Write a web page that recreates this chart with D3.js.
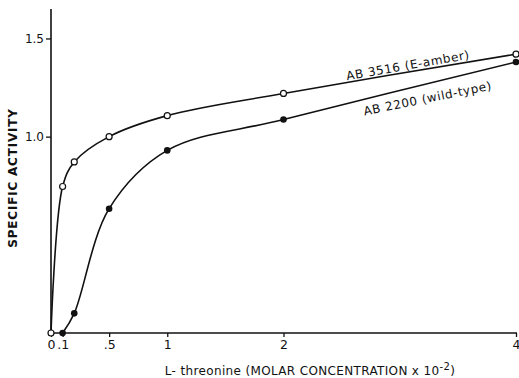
<!DOCTYPE html>
<html>
<head>
<meta charset="utf-8">
<script src="https://cdn.jsdelivr.net/npm/d3@7"></script>
<style>
  html, body { margin: 0; padding: 0; background: #fff; }
  svg { display: block; }
  text { font-family: "DejaVu Sans", sans-serif; fill: #111; }
</style>
</head>
<body>
<svg id="chart" width="519" height="378"></svg>
<script>
// L-threonine concentration (molar x 10^-2)
const concAmber = [0, 0.1, 0.2, 0.5, 1, 2, 4];
const activityAmber = [0, 0.746, 0.871, 1.0, 1.107, 1.22, 1.42];

const concWild = [0.1, 0.2, 0.5, 1, 2, 4];
const activityWild = [0, 0.10, 0.633, 0.93, 1.087, 1.38];

const xTicks = [0, 0.1, 0.5, 1, 2, 4];
const xTickLabels = ["0", ".1", ".5", "1", "2", "4"];
const yTicks = [1.0, 1.5];
const yTickLabels = ["1.0", "1.5"];

const seriesNames = ["AB 3516  (E-amber)", "AB 2200  (wild-type)"];

const svg = d3.select("#chart");
const x = d3.scaleLinear().domain([0, 4]).range([51, 516]);
const y = d3.scaleLinear().domain([0, 1.65]).range([333, 9]);

const ink = "#111";

// axes
const xAxis = d3.axisBottom(x).tickValues(xTicks)
  .tickFormat((d, i) => xTickLabels[i]).tickSize(4).tickSizeOuter(0).tickPadding(3);
const gx = svg.append("g").attr("transform", `translate(0,${y(0)})`).call(xAxis);
gx.select(".domain").attr("stroke", ink).attr("stroke-width", 1.6)
  .attr("d", `M${x(0)},0H${x(4) + 1}`);
gx.selectAll(".tick line").attr("stroke", ink).attr("stroke-width", 1.3);
gx.selectAll(".tick text").attr("font-size", 12.5).attr("font-family", "DejaVu Sans").attr("fill", ink);

const yAxis = d3.axisLeft(y).tickValues(yTicks)
  .tickFormat((d, i) => yTickLabels[i]).tickSize(5).tickSizeOuter(0).tickPadding(2);
const gy = svg.append("g").attr("transform", `translate(${x(0)},0)`).call(yAxis);
gy.select(".domain").attr("stroke", ink).attr("stroke-width", 1.6)
  .attr("d", `M0,${y(0)}V${y(1.65)}`);
gy.selectAll(".tick line").attr("stroke", ink).attr("stroke-width", 1.3);
gy.selectAll(".tick text").attr("font-size", 12).attr("font-family", "DejaVu Sans").attr("fill", ink);

// curves
const line = d3.line().x(d => x(d[0])).y(d => y(d[1])).curve(d3.curveCatmullRom.alpha(0.5));
const amber = concAmber.map((c, i) => [c, activityAmber[i]]);
const wild = concWild.map((c, i) => [c, activityWild[i]]);

svg.append("path").datum(amber).attr("d", line)
  .attr("fill", "none").attr("stroke", ink).attr("stroke-width", 1.6);
svg.append("path").datum(wild).attr("d", line)
  .attr("fill", "none").attr("stroke", ink).attr("stroke-width", 1.6);

// points
svg.append("g").selectAll("circle").data(amber).join("circle")
  .attr("cx", d => x(d[0])).attr("cy", d => y(d[1])).attr("r", 3)
  .attr("fill", "#fff").attr("stroke", ink).attr("stroke-width", 1.2);
svg.append("g").selectAll("circle").data(wild).join("circle")
  .attr("cx", d => x(d[0])).attr("cy", d => y(d[1])).attr("r", 3.3)
  .attr("fill", ink);

// series labels along their curves
const labels = [
  { text: seriesNames[0], at: [3.07, 1.362], angle: -10 },
  { text: seriesNames[1], at: [3.24, 1.194], angle: -11.5 }
];
svg.append("g").selectAll("text").data(labels).join("text")
  .attr("transform", d => `translate(${x(d.at[0])},${y(d.at[1])}) rotate(${d.angle})`)
  .attr("text-anchor", "middle").attr("dominant-baseline", "central")
  .attr("font-size", 12).attr("letter-spacing", 0.6).text(d => d.text);

// axis titles
const xt = svg.append("text").attr("x", 310).attr("y", 375)
  .attr("text-anchor", "middle").attr("font-size", 12).attr("letter-spacing", 0.35);
xt.append("tspan").text("L- threonine  (MOLAR CONCENTRATION  x 10");
xt.append("tspan").attr("dy", -5).attr("font-size", 10).text("-2");
xt.append("tspan").attr("dy", 5).text(")");

svg.append("text")
  .attr("transform", "translate(17,178) rotate(-90)")
  .attr("text-anchor", "middle").attr("font-size", 12).attr("font-weight", "bold")
  .attr("letter-spacing", 0.8)
  .text("SPECIFIC   ACTIVITY");
</script>
</body>
</html>
